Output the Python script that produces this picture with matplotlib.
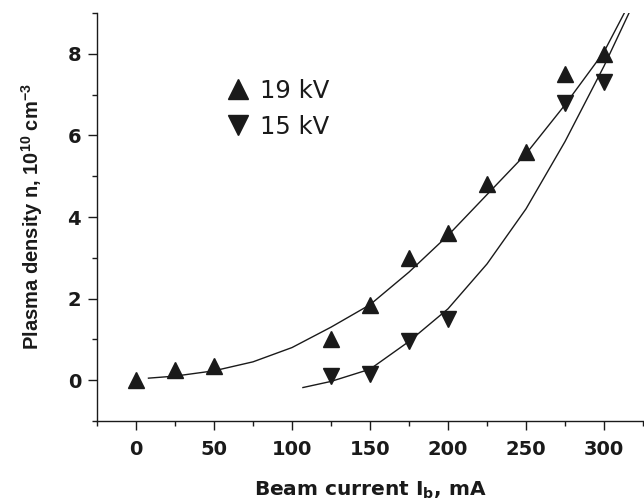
import numpy as np
import matplotlib
matplotlib.use('Agg')
import matplotlib.pyplot as plt

plt.rcParams['font.family'] = ['DejaVu Sans']
plt.rcParams['mathtext.fontset'] = 'custom'
plt.rcParams['mathtext.rm'] = 'Liberation Sans:bold'
plt.rcParams['mathtext.bf'] = 'Liberation Sans:bold'
plt.rcParams['mathtext.default'] = 'regular'

# measured points
current_19 = [0, 25, 50, 125, 150, 175, 200, 225, 250, 275, 300]
density_19 = [0.0, 0.25, 0.35, 1.0, 1.85, 3.0, 3.6, 4.8, 5.6, 7.5, 8.0]
current_15 = [125, 150, 175, 200, 275, 300]
density_15 = [0.1, 0.15, 0.95, 1.5, 6.8, 7.3]

# fitted curves
fit_x_19 = [8, 25, 50, 75, 100, 125, 150, 175, 200, 225, 250, 275, 300, 313]
fit_y_19 = [0.05, 0.1, 0.23, 0.45, 0.8, 1.3, 1.85, 2.65, 3.55, 4.55, 5.55, 6.75, 8.05, 9.0]
fit_x_15 = [107, 125, 150, 175, 200, 225, 250, 275, 300, 316]
fit_y_15 = [-0.18, -0.03, 0.27, 0.95, 1.75, 2.85, 4.2, 5.85, 7.7, 9.0]

ink = '#1a1a1a'

fig = plt.figure(figsize=(6.44, 5.01), dpi=100)
ax = fig.add_axes([0.1506, 0.1597, 0.8479, 0.8143])

ax.plot(fit_x_19, fit_y_19, color=ink, lw=1.0)
ax.plot(fit_x_15, fit_y_15, color=ink, lw=1.0)
h1, = ax.plot(current_19, density_19, ls='none', marker='^', ms=11.5, color=ink, label='19 kV')
h2, = ax.plot(current_15, density_15, ls='none', marker='v', ms=11.5, color=ink, label='15 kV')

ax.set_xlim(-25, 325)
ax.set_ylim(-1, 9)
ax.set_xticks([0, 50, 100, 150, 200, 250, 300])
ax.set_xticks(np.arange(-25, 326, 25), minor=True)
ax.set_yticks([0, 2, 4, 6, 8])
ax.set_yticks(np.arange(-1, 10, 1), minor=True)

for s in ['top', 'right']:
    ax.spines[s].set_visible(False)
for s in ['left', 'bottom']:
    ax.spines[s].set_linewidth(1.0)
    ax.spines[s].set_color(ink)

ax.tick_params(which='major', direction='out', length=6.5, width=1.0, color=ink,
               labelsize=14, labelcolor=ink)
ax.tick_params(which='minor', direction='out', length=3.5, width=1.0, color=ink)
ax.tick_params(axis='x', pad=7)
ax.tick_params(axis='y', pad=5)
for lab in ax.get_xticklabels() + ax.get_yticklabels():
    lab.set_fontweight('bold')

ax.set_xlabel('Beam current I$_b$, mA', fontsize=14.5, fontweight='bold', color=ink, labelpad=15)
ax.set_ylabel('Plasma density n, 10$^{10}$ cm$^{-3}$', fontsize=14.5, fontweight='bold',
              family='Liberation Sans', color=ink, labelpad=16)

leg = ax.legend(handles=[h1, h2], loc='upper left', bbox_to_anchor=(0.2, 0.893),
                frameon=False, fontsize=17.5, handlelength=0.8, handletextpad=0.5,
                labelspacing=0.5, markerscale=1.3)
for t in leg.get_texts():
    t.set_color(ink)

fig.savefig('out.png', dpi=100)
